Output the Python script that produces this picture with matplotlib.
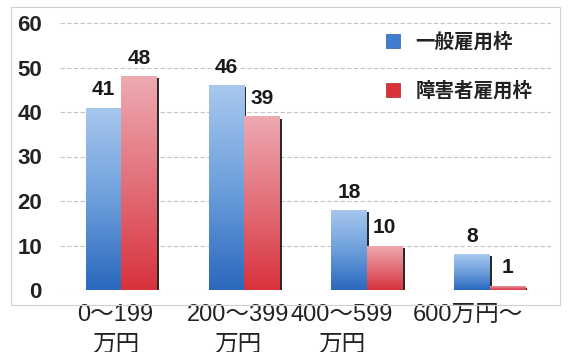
import numpy as np
import matplotlib
matplotlib.use("Agg")
import matplotlib.pyplot as plt
import matplotlib.patheffects as pe
from matplotlib.colors import LinearSegmentedColormap
from matplotlib.patches import Patch, Rectangle
from matplotlib.transforms import ScaledTranslation

plt.rcParams['font.family'] = ['Liberation Sans', 'Noto Sans CJK JP', 'DejaVu Sans']

# 年収帯ごとの割合 (%)
categories = ["0〜199\n万円", "200〜399\n万円", "400〜599\n万円", "600万円〜"]
general = [41, 46, 18, 8]      # 一般雇用枠
disabled = [48, 39, 10, 1]     # 障害者雇用枠
series_names = ["一般雇用枠", "障害者雇用枠"]
yticks = [0, 10, 20, 30, 40, 50, 60]

blue_cmap = LinearSegmentedColormap.from_list("b", ["#2a68bd", "#6d9fdc", "#a8c8ee"])
red_cmap = LinearSegmentedColormap.from_list("r", ["#d8323c", "#e2707a", "#eeaab2"])

fig = plt.figure(figsize=(5.71, 3.52), dpi=100)
ax = fig.add_axes([60 / 571, 1 - 290 / 352, 491 / 571, 267 / 352])

# 外枠
fig.add_artist(Rectangle((11 / 571, 1 - 305 / 352), 549 / 571, 298 / 352,
                         transform=fig.transFigure, fill=False,
                         edgecolor="#cfcfcf", lw=0.8))

x = np.arange(len(categories))
w = 0.29
shadow = [pe.SimplePatchShadow(offset=(1.5, -1.5), shadow_rgbFace="#2a2a2a", alpha=1.0),
          pe.Normal()]

grad = np.linspace(0, 1, 256).reshape(-1, 1)
for vals, off, cmap in [(general, -w / 2, blue_cmap), (disabled, w / 2, red_cmap)]:
    bars = ax.bar(x + off, vals, width=w, facecolor="none", edgecolor="none",
                  zorder=2, path_effects=shadow)
    for b, v in zip(bars, vals):
        x0 = b.get_x()
        im = ax.imshow(grad, cmap=cmap, origin="lower", aspect="auto",
                       extent=(x0, x0 + w, 0, v), zorder=2.5)
        im.set_clip_path(b)
        ax.annotate(str(v), (x0 + w / 2, v), xytext=(0, 6), textcoords="offset points",
                    ha="center", va="bottom", fontsize=15, fontweight="bold",
                    color="#1a1a1a", zorder=4)

ax.set_xlim(-0.5, len(categories) - 0.5)
ax.set_ylim(0, 60)
ax.set_yticks(yticks)
ax.set_yticklabels([str(t) for t in yticks], fontsize=16, fontweight="bold", color="#222222")
ax.yaxis.grid(True, color="#c4c4c4", linestyle=(0, (4, 2)), lw=0.8, zorder=0)
ax.set_axisbelow(True)
ax.tick_params(axis="y", length=0, pad=13)
ax.tick_params(axis="x", length=0, pad=10)
ax.set_xticks(x)
ax.set_xticklabels(categories, fontsize=17, color="#222222", linespacing=1.45)
for s in ax.spines.values():
    s.set_visible(False)

# ラベル位置の微調整 (px)
label_shift = [-6, -6, -25, -22]
for lab, dx in zip(ax.get_xticklabels(), label_shift):
    lab.set_transform(lab.get_transform() + ScaledTranslation(dx / 100, 0, fig.dpi_scale_trans))

handles = [Patch(facecolor="#3f7dd0", edgecolor="#2c5fa8", lw=0.5),
           Patch(facecolor="#d9303a", edgecolor="#b02028", lw=0.5)]
leg = ax.legend(handles, series_names, loc="upper left", bbox_to_anchor=(0.645, 1.0),
                frameon=False, borderpad=0, handlelength=0.7, handleheight=0.7,
                handletextpad=0.8, labelspacing=1.5,
                prop={"size": 14, "weight": "bold"})
for t in leg.get_texts():
    t.set_color("#222222")

fig.savefig("out.png", dpi=100, facecolor="white")
